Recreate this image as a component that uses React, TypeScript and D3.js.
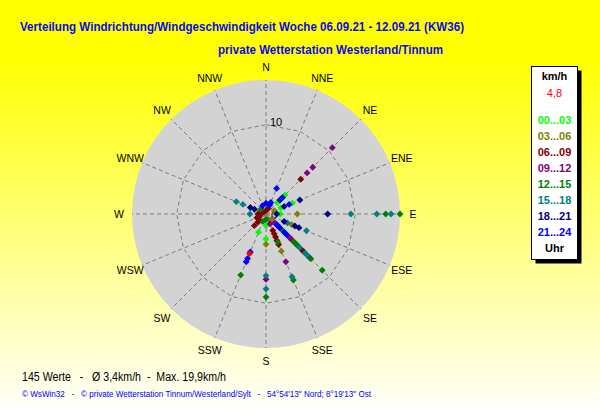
import * as d3 from "d3";
import { useEffect, useRef } from "react";

// wind directions, clockwise from north
const directions = ["N", "NNE", "NE", "ENE", "E", "ESE", "SE", "SSE", "S", "SSW", "SW", "WSW", "W", "WNW", "NW", "NNW"];

// time-of-day bins (legend)
const timeBins = ["00...03", "03...06", "06...09", "09...12", "12...15", "15...18", "18...21", "21...24"];

// observations per time bin: [direction index, speed km/h]
const h00_03: [number, number][] = [
    [2, 3.0], [2, 1.8], [2, 2.7], [3, 3.2], [3, 1.8], [4, 1.6], [6, 3.0], [8, 1.3], [8, 2.8], [9, 2.2],
];
const h03_06: [number, number][] = [
    [4, 3.5], [3, 1.0], [5, 3.1], [6, 0.85], [7, 4.5], [8, 3.4], [7, 0.7],
];
const h06_09: [number, number][] = [
    [2, 5.5], [6, 5.8], [6, 6.0], [7, 2.0], [7, 2.4], [7, 2.8], [7, 3.2], [7, 3.7], [10, 1.3], [10, 1.85],
    [12, 0.55], [11, 0.8], [10, 1.0], [1, 0.7], [0, 0.4], [14, 0.35], [12, 0.9], [13, 0.6], [11, 1.1],
];
const h09_12: [number, number][] = [
    [2, 10.5], [2, 7.4], [2, 6.5], [6, 1.4], [6, 3.8], [6, 4.0], [6, 6.8], [7, 5.8], [8, 7.3], [7, 1.2],
];
const h12_15: [number, number][] = [
    [4, 13.4], [4, 15.0], [6, 2.6], [6, 4.4], [6, 4.6], [6, 4.8], [6, 5.0], [6, 7.1], [6, 8.9], [7, 8.0],
    [7, 3.4], [8, 9.3], [9, 7.4], [14, 0.8], [8, 0.6], [9, 0.9],
];
const h15_18: [number, number][] = [
    [4, 9.5], [4, 12.4], [4, 14.0], [5, 4.9], [5, 2.6], [6, 5.3], [6, 6.2], [6, 6.5], [7, 7.6], [8, 6.9],
    [8, 8.4], [12, 1.8], [13, 3.6], [13, 2.8],
];
const h18_21: [number, number][] = [
    [4, 6.9], [3, 4.1], [3, 2.2], [5, 2.2], [5, 3.5], [5, 4.0], [13, 1.9], [13, 1.4], [6, 1.8], [2, 2.2], [4, 1.2],
];
const h21_24: [number, number][] = [
    [1, 3.1], [2, 2.6], [2, 2.4], [3, 2.8], [1, 1.1], [1, 1.4], [0, 1.2], [6, 1.75], [6, 2.0], [6, 2.2],
    [6, 2.9], [6, 3.3], [9, 4.6], [9, 5.4], [9, 5.8], [15, 1.0],
];
const series = [h00_03, h03_06, h06_09, h09_12, h12_15, h15_18, h18_21, h21_24];

// latest reading
const current: [number, number] = [9, 4.8];

const ringTicks = [10];
const speedMax = 15;

const title = "Verteilung Windrichtung/Windgeschwindigkeit  Woche 06.09.21 - 12.09.21 (KW36)";
const subtitle = "private Wetterstation Westerland/Tinnum";
const summary = "145 Werte   -   Ø 3,4km/h  -  Max. 19,9km/h";
const credits = "© WsWin32   -   © private Wetterstation Tinnum/Westerland/Sylt   -   54°54'13\" Nord; 8°19'13\" Ost";

const binColors = ["#00ff00", "#808000", "#800000", "#800080", "#008000", "#008080", "#000080", "#0000ff"];
const font = "Arial, 'Liberation Sans', sans-serif";

function WindRose() {
    const ref = useRef<SVGSVGElement>(null);
    const width = 600;
    const height = 415;

    useEffect(() => {
        const svg = d3.select(ref.current);
        svg.selectAll("*").remove();

        const cx = 266, cy = 214, R = 134;

        const r = d3.scaleLinear().domain([0, speedMax]).range([0, R]);
        const angle = d3.scaleLinear().domain([0, directions.length]).range([0, 2 * Math.PI]);
        const color = d3.scaleOrdinal<number, string>().domain(d3.range(timeBins.length)).range(binColors);

        const px = (dir: number, v: number) => cx + r(v) * Math.sin(angle(dir));
        const py = (dir: number, v: number) => cy - r(v) * Math.cos(angle(dir));

        // background gradient
        const grad = svg.append("defs").append("linearGradient")
            .attr("id", "bg").attr("x1", 0).attr("y1", 0).attr("x2", 0).attr("y2", 1);
        grad.append("stop").attr("offset", "0.14").attr("stop-color", "#ffff00");
        grad.append("stop").attr("offset", "1").attr("stop-color", "#ffffff");

        svg.append("rect").attr("width", width).attr("height", height).attr("fill", "url(#bg)");

        // titles
        svg.append("text")
            .attr("x", 20).attr("y", 30.5)
            .attr("textLength", 444).attr("lengthAdjust", "spacingAndGlyphs")
            .style("font", `bold 13.5px ${font}`).attr("fill", "#0a0ae8")
            .text(title);
        svg.append("text")
            .attr("x", 218).attr("y", 54)
            .attr("textLength", 225).attr("lengthAdjust", "spacingAndGlyphs")
            .style("font", `bold 13.5px ${font}`).attr("fill", "#0a0ae8")
            .text(subtitle);

        // polar disc
        const g = svg.append("g");
        g.append("circle").attr("cx", cx).attr("cy", cy).attr("r", R).attr("fill", "#d3d3d3");

        // radial lines
        g.append("g")
            .selectAll("line")
            .data(d3.range(directions.length))
            .join("line")
            .attr("x1", cx).attr("y1", cy)
            .attr("x2", (d) => px(d, speedMax)).attr("y2", (d) => py(d, speedMax))
            .attr("stroke", "#7a7a7a").attr("stroke-dasharray", "4,3");

        // speed rings (16-gons)
        const ring = d3.lineRadial<number>()
            .angle((d) => angle(d))
            .curve(d3.curveLinearClosed);
        g.append("g")
            .attr("transform", `translate(${cx},${cy})`)
            .selectAll("path")
            .data(ringTicks)
            .join("path")
            .attr("d", (t) => ring.radius(r(t))(d3.range(directions.length))!)
            .attr("fill", "none")
            .attr("stroke", "#7a7a7a").attr("stroke-dasharray", "4,3");

        g.selectAll("text.tick")
            .data(ringTicks)
            .join("text")
            .attr("class", "tick")
            .attr("x", cx + 4).attr("y", (t) => cy - r(t) + 1)
            .style("font", `11px ${font}`)
            .text((t) => t);
        g.append("text")
            .attr("x", cx + 5).attr("y", cy + 5)
            .style("font", `11px ${font}`)
            .text("0");

        // direction labels
        g.append("g")
            .selectAll("text")
            .data(directions)
            .join("text")
            .attr("x", (_, i) => px(i, speedMax * 147 / R))
            .attr("y", (_, i) => py(i, speedMax * 147 / R))
            .attr("text-anchor", "middle")
            .attr("dominant-baseline", "central")
            .style("font", `10.5px ${font}`)
            .text((d) => d);

        // observations
        const marker = d3.symbol().type(d3.symbolDiamond2).size(30);
        series.forEach((points, i) => {
            g.append("g")
                .selectAll("path")
                .data(points)
                .join("path")
                .attr("transform", ([dir, v]) => `translate(${px(dir, v)},${py(dir, v)})`)
                .attr("d", marker()!)
                .attr("fill", color(i));
        });
        g.append("path")
            .attr("transform", `translate(${px(current[0], current[1])},${py(current[0], current[1])})`)
            .attr("d", marker()!)
            .attr("fill", "#ff0000");

        // legend
        const lx = 531.5, ly = 66.5, lw = 46, lh = 193;
        const legend = svg.append("g");
        legend.append("rect").attr("x", lx + 4).attr("y", ly + 4).attr("width", lw).attr("height", lh).attr("fill", "#000");
        legend.append("rect").attr("x", lx).attr("y", ly).attr("width", lw).attr("height", lh)
            .attr("fill", "#fff").attr("stroke", "#000");
        const mid = lx + lw / 2;
        legend.append("text").attr("x", mid).attr("y", 80).attr("text-anchor", "middle")
            .style("font", `bold 11px ${font}`).text("km/h");
        legend.append("text").attr("x", mid).attr("y", 96.5).attr("text-anchor", "middle")
            .style("font", `11px ${font}`).attr("fill", "#ff0000")
            .text(d3.format(".1f")(current[1]).replace(".", ","));
        legend.selectAll("text.bin")
            .data(timeBins)
            .join("text")
            .attr("class", "bin")
            .attr("x", mid).attr("y", (_, i) => 123.5 + i * 16)
            .attr("text-anchor", "middle")
            .style("font", `bold 11px ${font}`)
            .attr("fill", (_, i) => color(i))
            .text((d) => d);
        legend.append("text").attr("x", mid).attr("y", 251.5).attr("text-anchor", "middle")
            .style("font", `bold 11px ${font}`).text("Uhr");

        // footer
        svg.append("text")
            .attr("x", 22).attr("y", 381)
            .attr("textLength", 204).attr("lengthAdjust", "spacingAndGlyphs")
            .style("font", `12px ${font}`).attr("fill", "#000")
            .style("white-space", "pre")
            .text(summary);
        svg.append("text")
            .attr("x", 22).attr("y", 397)
            .attr("textLength", 349).attr("lengthAdjust", "spacingAndGlyphs")
            .style("font", `9px ${font}`).attr("fill", "#0000ff")
            .style("white-space", "pre")
            .text(credits);
    }, []);

    return <svg ref={ref} width={width} height={height} style={{ position: "absolute", left: 0, top: 0 }} />;
}

export default function App() {
    return <WindRose />;
}
